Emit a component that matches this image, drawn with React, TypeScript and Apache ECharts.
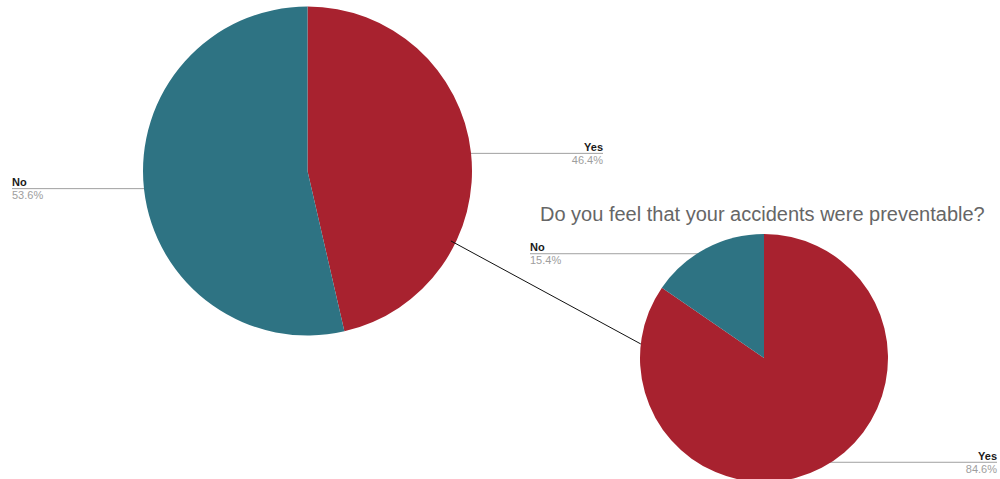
import React, { useEffect, useRef } from "react";
import * as echarts from "echarts";

const categories = ["Yes", "No"];
const pie1Values = [46.4, 53.6];
const pie2Values = [84.6, 15.4];
const colors = ["#a8222f", "#2e7383"];
const title2 = "Do you feel that your accidents were preventable?";

const FONT = "'Liberation Sans', Arial, Helvetica, sans-serif";

const P1 = { cx: 307.5, cy: 171, r: 164.5, leftEdge: 12, rightEdge: 603 };
const P2 = { cx: 764, cy: 358, r: 124, leftEdge: 530, rightEdge: 997 };

function makeLayout(p: typeof P1) {
  return (params: any) => {
    const pts = params.labelLinePoints;
    if (!pts) return {};
    const dx = pts[0][0] - p.cx;
    const dy = pts[0][1] - p.cy;
    const d = Math.sqrt(dx * dx + dy * dy) || 1;
    const sx = p.cx + (dx / d) * p.r * 0.95;
    const sy = p.cy + (dy / d) * p.r * 0.95;
    const right = dx > 0;
    const ex = right ? p.rightEdge : p.leftEdge;
    return {
      x: ex,
      y: sy,
      align: right ? "right" : "left",
      verticalAlign: "middle",
      labelLinePoints: [
        [sx, sy],
        [sx, sy],
        [ex, sy],
      ],
    };
  };
}

function makeSeries(values: number[], p: typeof P1) {
  return {
    type: "pie",
    center: [p.cx, p.cy],
    radius: p.r,
    startAngle: 90,
    clockwise: true,
    percentPrecision: 1,
    data: categories.map((c, i) => ({
      name: c,
      value: values[i],
      itemStyle: { color: colors[i] },
    })),
    label: {
      show: true,
      position: "outside",
      formatter: "{n|{b}}\n{p|{d}%}",
      rich: {
        n: { fontSize: 11, color: "#1a1a1a", fontFamily: FONT, lineHeight: 13, fontWeight: 600 },
        p: { fontSize: 11, color: "#9e9e9e", fontFamily: FONT, lineHeight: 13 },
      },
    },
    labelLine: {
      show: true,
      length: 0,
      length2: 0,
      lineStyle: { color: "#a0a0a0", width: 1 },
    },
    labelLayout: makeLayout(p),
    emphasis: { disabled: true },
  };
}

function pt(p: typeof P1, deg: number, k = 1) {
  const a = (deg * Math.PI) / 180;
  return [p.cx + p.r * k * Math.cos(a), p.cy - p.r * k * Math.sin(a)];
}

export default function App() {
  const ref = useRef<HTMLDivElement>(null);
  useEffect(() => {
    if (!ref.current) return;
    const chart = echarts.init(ref.current, null, { renderer: "svg" });
    const a = pt(P1, -26, 0.97);
    const b = pt(P2, 173.5, 1);
    chart.setOption({
      animation: false,
      backgroundColor: "#ffffff",
      series: [makeSeries(pie1Values, P1), makeSeries(pie2Values, P2)],
      graphic: [
        {
          type: "line",
          shape: { x1: a[0], y1: a[1], x2: b[0], y2: b[1] },
          style: { stroke: "#111111", lineWidth: 1 },
          z: 10,
        },
        {
          type: "text",
          left: 540,
          top: 204,
          style: {
            text: title2,
            fontSize: 20,
            fill: "#666666",
            fontFamily: FONT,
          },
        },
      ],
    });
    return () => chart.dispose();
  }, []);
  return (
    <div
      ref={ref}
      style={{ position: "fixed", left: 0, top: 0, width: 1000, height: 479 }}
    />
  );
}
